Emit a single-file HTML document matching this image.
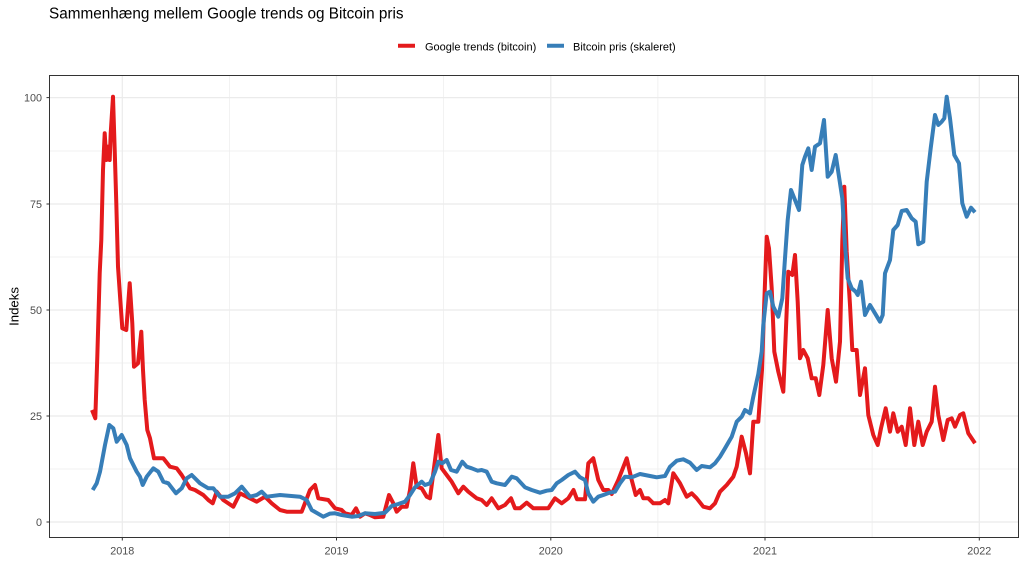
<!DOCTYPE html>
<html><head><meta charset="utf-8"><style>
html,body{margin:0;padding:0;background:#fff;}
svg{display:block;font-family:"Liberation Sans",Arial,sans-serif;}
</style></head><body>
<svg width="1024" height="561" viewBox="0 0 1024 561" xmlns="http://www.w3.org/2000/svg">
<rect width="1024" height="561" fill="#fff"/>
<text x="49" y="18.3" font-size="15.3" fill="#000">Sammenhæng mellem Google trends og Bitcoin pris</text>
<line x1="398" y1="45.7" x2="415" y2="45.7" stroke="#E41A1C" stroke-width="4"/>
<text x="425" y="50.5" font-size="11" fill="#000">Google trends (bitcoin)</text>
<line x1="547" y1="45.7" x2="564" y2="45.7" stroke="#377EB8" stroke-width="4"/>
<text x="573" y="50.5" font-size="11" fill="#000">Bitcoin pris (skaleret)</text>
<g stroke="#ededed" stroke-width="0.7">
<line x1="49.5" x2="1018.5" y1="469" y2="469"/><line x1="49.5" x2="1018.5" y1="363" y2="363"/>
<line x1="49.5" x2="1018.5" y1="257" y2="257"/><line x1="49.5" x2="1018.5" y1="151" y2="151"/>
<line y1="75.5" y2="537.5" x1="229.4" x2="229.4"/><line y1="75.5" y2="537.5" x1="443.6" x2="443.6"/>
<line y1="75.5" y2="537.5" x1="657.9" x2="657.9"/><line y1="75.5" y2="537.5" x1="872.1" x2="872.1"/>
</g>
<g stroke="#ebebeb" stroke-width="1.2">
<line x1="49.5" x2="1018.5" y1="522" y2="522"/><line x1="49.5" x2="1018.5" y1="416" y2="416"/>
<line x1="49.5" x2="1018.5" y1="310" y2="310"/><line x1="49.5" x2="1018.5" y1="204" y2="204"/>
<line x1="49.5" x2="1018.5" y1="97.6" y2="97.6"/>
<line y1="75.5" y2="537.5" x1="122.3" x2="122.3"/><line y1="75.5" y2="537.5" x1="336.5" x2="336.5"/>
<line y1="75.5" y2="537.5" x1="550.8" x2="550.8"/><line y1="75.5" y2="537.5" x1="765" x2="765"/>
<line y1="75.5" y2="537.5" x1="979.3" x2="979.3"/>
</g>
<g fill="none" stroke-width="4" stroke-linejoin="round" stroke-linecap="butt">
<polyline stroke="#E41A1C" points="92,410 95.3,418.3 97.3,356.7 99.7,273.3 101.3,240 103,170 104.7,133.3 106.3,160 108,146.7 109.7,160 110.7,133.3 113,96.7 114.7,150 116.3,203.3 118,266.7 120.3,300 122.3,328.3 126.3,330 129.7,283.3 132.3,323.3 134,366.7 138,363.3 141.3,331.7 143,370 144.7,400 147.3,430 150,438.3 154,458.3 163.3,458.3 170,466.7 176.7,468.3 181.7,475 190,488.3 195,490 203.3,495 208.3,500 212.7,503.3 216.7,491.7 223.3,500 233.3,506.7 240,493.3 250,498.3 256.7,501.7 265,496.7 271.7,503.3 280,510 286.7,511.7 301.7,511.7 310,490 315,485 318.3,498.3 328.3,500 335,508.3 341.7,510 345,513.3 351.7,515 356,508.3 360,516.7 365,513.3 370,515 375,517.3 383.3,516.7 389,495 393.3,503.3 396.7,511.7 401.7,506.7 406.7,506.7 410,490 413.3,463.3 416.7,486.7 421.7,488.3 426.7,496.7 430,498.3 433.3,473.3 438.3,435 441.7,468.3 446.7,475 451.7,481.7 458.3,493.3 463.3,486.7 468.3,491.7 476.7,498.3 481.7,500 486.7,505 491.7,498.3 498.3,508.3 505,505 511,498.3 515,508.3 520,508.3 526.7,502.7 533.3,508.3 548.3,508.3 555,498.3 561.7,503.3 568.3,498.3 573.5,490 577,499.3 585,499.3 588.3,463.3 593.3,458.3 598.3,480 603.3,490 608.3,490 611.7,494 618.3,480 626.7,458.3 631.7,480 635.7,495 640,490 643.3,498.3 648.3,498.3 653.3,503.3 660,503.3 665,500 668.3,503.3 673.3,473.3 680,483.3 686.7,496.7 691.7,493.3 696.7,498.3 703.3,506.7 710,508.3 715,503.3 720,491.7 726.7,485 733.3,476.7 736.7,466.7 741.7,436.7 746,453.3 750,473.3 753.3,421.7 758.3,421.7 760.5,390 762,370 764.3,301.7 766.7,236.7 769,248.3 771.7,288.3 774.3,351.7 778.3,371.7 783.3,391.7 785.7,335 788.3,271.7 792.3,275 795,255 797.7,301.7 800,358.3 803.3,350 807.7,358.3 811.7,378.3 815.7,378.3 819.3,395 823.3,365 827.7,310 831.7,358.3 836,381.7 840,341.7 842.3,241.7 844.3,186.7 846.7,251.7 850,305 852.3,350 856.7,350 860,395 865,368.3 868.3,415 873.3,435 877.7,445 881,428.3 885.7,408.3 890,431.7 893.3,413.3 897.7,431.7 901.7,426.7 905.7,445 910,408.3 914.3,445 918.3,421.7 922.7,445 926.7,431.7 931.7,421.7 935,386.7 938.3,415 943.3,440 947.7,420 951.7,418.3 955,426.7 960,415 963.3,413.3 968.3,433.3 975,443.3"/>
<polyline stroke="#377EB8" points="92.7,490 96.7,483.3 100,471.7 105,445 109.3,425 113.3,428.3 116.7,441.7 121.7,435 126.7,445 130,458.3 136.7,471.7 140,476.7 142.7,485 146.7,476.7 153.3,468.3 158.3,471.7 163.3,481.7 168.3,483.3 176,493.3 181.7,488.3 186.7,478.3 191.7,475 200,483.3 208.3,488.3 213.3,488.3 220,496.7 228.3,496.7 235,493.3 241.7,486.7 250,496.7 256.7,495 261.7,491.7 266.7,496.7 280,495 300,496.7 306.7,500 311.7,510 323.3,516.7 330,513.6 335,513.3 341.7,515 351.7,516.7 358.3,516 365,513.3 375,514 385,512.7 391.7,506 398.3,504 405,501.7 410,495 415,487.3 421.7,481.7 425,485 430,483.3 435,471.7 438.3,461.7 442.3,463.3 446.7,460 451,470 456.7,471.7 462.3,461.7 466.7,466.7 471.7,468.3 477.7,470.7 481.7,470 486.7,471.7 491.7,481.7 496.7,483.3 505,485 511.7,476.7 516.7,478.3 525,487.3 531.7,490 540,492.7 546.7,490.7 551.7,490 556.7,483.3 561.7,480 568.3,475 575,471.7 580,477.3 585,480 588.3,493.3 593.3,501.7 598.3,496.7 603.3,495 609.3,492.7 615,491.7 620,483.3 625,476.7 631.7,477.3 640,474 650,476 656.7,477.3 665,476 670,466.7 676.7,460.7 683.3,459.3 690,462.7 696.7,470 701.7,466 710,467.3 715,463.3 720,456.7 725,448.3 731.7,436.7 736.7,421.7 741.7,416.7 745,410 750,413.3 753.3,396.7 758.3,374 761.7,351.7 763.3,325 766.7,293.3 770,291.7 773.3,306.7 778.3,316.7 782.3,298.3 785,258.3 787.7,220 791,190 795,200 799,210 802.3,165 805,156.7 808.3,148.3 811.7,170 815,146.7 820,143.3 824,120 827.7,176.7 831.7,171.7 835.7,155 839,176.7 842.3,198.3 845,245 847.7,278.3 851.7,288.3 855.7,291.7 857.7,295 861,281.7 865,315 870,305 875,313.3 880,321.7 882.7,315 885,273.3 890,260 893.3,230 897.7,225 901.7,211 906.7,210 911.7,218.3 915.7,221.7 918.3,244.3 923.3,241.7 926.7,181.7 930.7,148.3 935,115 938.3,125 941.7,121.7 944.3,118.3 946.7,96.7 950,118.3 954.3,155 959,163.3 962.3,203.3 966.7,216.7 971,207.7 975,212.3"/>
</g>
<rect x="49.5" y="75.5" width="969" height="462" fill="none" stroke="#333" stroke-width="1"/>
<g stroke="#333" stroke-width="1">
<line x1="46.5" x2="49.5" y1="522" y2="522"/><line x1="46.5" x2="49.5" y1="416" y2="416"/>
<line x1="46.5" x2="49.5" y1="310" y2="310"/><line x1="46.5" x2="49.5" y1="204" y2="204"/>
<line x1="46.5" x2="49.5" y1="97.6" y2="97.6"/>
<line y1="537.5" y2="540.5" x1="122.3" x2="122.3"/><line y1="537.5" y2="540.5" x1="336.5" x2="336.5"/>
<line y1="537.5" y2="540.5" x1="550.8" x2="550.8"/><line y1="537.5" y2="540.5" x1="765" x2="765"/>
<line y1="537.5" y2="540.5" x1="979.3" x2="979.3"/>
</g>
<g font-size="10.8" fill="#4d4d4d" text-anchor="end">
<text x="42" y="526">0</text><text x="42" y="420">25</text><text x="42" y="314">50</text>
<text x="42" y="208">75</text><text x="42" y="101.6">100</text>
</g>
<g font-size="10.8" fill="#4d4d4d" text-anchor="middle">
<text x="122.3" y="554.5">2018</text><text x="336.5" y="554.5">2019</text><text x="550.8" y="554.5">2020</text>
<text x="765" y="554.5">2021</text><text x="979.3" y="554.5">2022</text>
</g>
<text transform="translate(18.5,306.5) rotate(-90)" font-size="13.2" fill="#000" text-anchor="middle">Indeks</text>
</svg>
</body></html>
